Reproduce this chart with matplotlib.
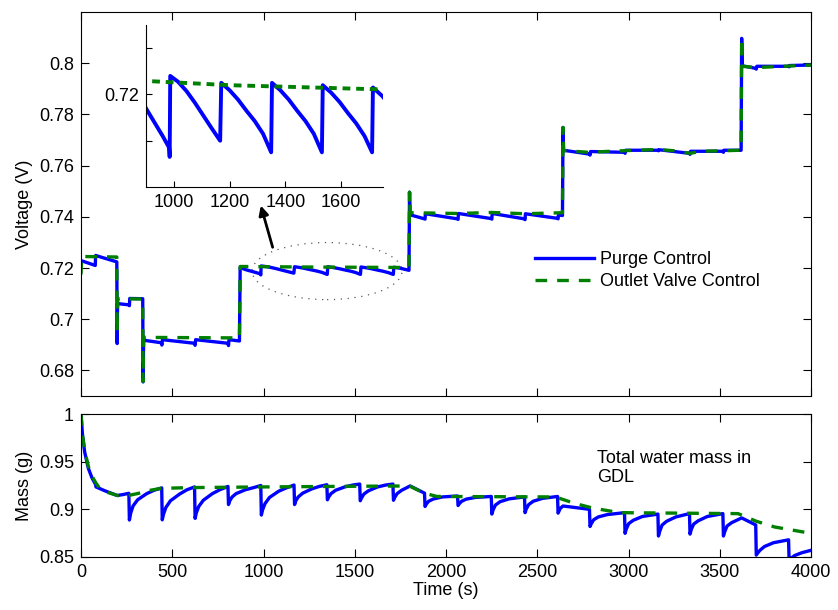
import numpy as np
import matplotlib.pyplot as plt
from matplotlib.patches import Ellipse

plt.rcParams['font.family'] = ['Liberation Sans', 'DejaVu Sans']
plt.rcParams['font.size'] = 13

# Spannung, Purge Control
vb_t = [0, 78, 80, 196, 198, 200, 263, 265, 267, 338, 340, 343,
        440, 443, 446, 622, 625, 628, 805, 808, 811, 868,
        872, 900, 930, 960, 983, 985,
        987, 1015, 1045, 1075, 1105, 1135, 1166,
        1170, 1200, 1230, 1260, 1290, 1320, 1349,
        1352, 1382, 1412, 1442, 1472, 1502, 1531,
        1534, 1564, 1594, 1624, 1654, 1684, 1711,
        1714, 1750, 1797, 1800, 1803,
        1882, 1885, 1887, 2063, 2066, 2068, 2248, 2251, 2253, 2430, 2433, 2435,
        2611, 2614, 2616, 2638, 2641, 2644,
        2786, 2789, 2792, 2978, 2981, 2984, 3161, 3164, 3167, 3334, 3337, 3340,
        3517, 3520, 3523, 3617, 3620, 3623,
        3697, 3700, 3703, 3877, 3880, 3883, 4000]
vb_v = [0.7229, 0.7210, 0.7249, 0.7224, 0.6905, 0.7061, 0.7056, 0.7053, 0.7081, 0.7080, 0.6755, 0.6918,
        0.6908, 0.6899, 0.6920, 0.6906, 0.6898, 0.6920, 0.6906, 0.6897, 0.6920, 0.6915,
        0.7202, 0.7194, 0.7188, 0.7182, 0.7177, 0.7173,
        0.7208, 0.72055, 0.72015, 0.71965, 0.7191, 0.71855, 0.7180,
        0.7205, 0.72018, 0.71978, 0.7193, 0.71885, 0.7183, 0.7175,
        0.7205, 0.72018, 0.71978, 0.7193, 0.71885, 0.7183, 0.7175,
        0.7204, 0.72008, 0.71968, 0.7192, 0.71875, 0.7182, 0.7175,
        0.7203, 0.7199, 0.7191, 0.7496, 0.7408,
        0.7392, 0.7391, 0.7412, 0.7392, 0.7390, 0.7413, 0.7393, 0.7391, 0.7413, 0.7392, 0.7389, 0.7412,
        0.7394, 0.7392, 0.7407, 0.7405, 0.7749, 0.7660,
        0.7645, 0.7641, 0.7655, 0.7652, 0.7648, 0.7660, 0.7660, 0.7658, 0.7662, 0.7648, 0.7644, 0.7656,
        0.7656, 0.7652, 0.7660, 0.7660, 0.8097, 0.7990,
        0.7980, 0.7977, 0.7988, 0.7988, 0.7986, 0.7991, 0.7993]

# Spannung, Outlet Valve Control
vg_t = [0, 3, 196, 198, 201, 338, 340, 343, 868, 872, 1200, 1500, 1797, 1800,
        1803, 2066, 2250, 2433, 2638, 2641, 2644, 2780, 2900, 3000, 3164, 3250,
        3337, 3400, 3617, 3620, 3623, 3700, 3880, 4000]
vg_v = [0.7175, 0.7245, 0.7243, 0.6950, 0.7080, 0.7079, 0.6757, 0.6929, 0.6927,
        0.7206, 0.7204, 0.7203, 0.7202, 0.7496, 0.7416, 0.7413, 0.7417, 0.7412,
        0.7416, 0.7749, 0.7659, 0.7652, 0.7656, 0.7659, 0.7663, 0.7658, 0.7648,
        0.7656, 0.7660, 0.8097, 0.7988, 0.7983, 0.7989, 0.7993]

# Wassermasse GDL, Purge Control
mb_t = [0, 8, 20, 40, 60, 80, 82, 130, 198, 230, 262,
        265, 272, 285, 310, 360, 400, 442,
        445, 452, 465, 490, 540, 580, 622,
        625, 632, 645, 670, 720, 760, 805,
        808, 815, 828, 850, 900, 950, 985,
        988, 995, 1008, 1033, 1083, 1125, 1167,
        1170, 1177, 1190, 1215, 1265, 1305, 1347,
        1350, 1357, 1370, 1395, 1445, 1490, 1527,
        1530, 1537, 1550, 1575, 1625, 1670, 1709,
        1712, 1719, 1732, 1757, 1803, 1882,
        1885, 1892, 1905, 1930, 1980, 2063,
        2066, 2073, 2086, 2111, 2161, 2248,
        2251, 2258, 2271, 2296, 2346, 2430,
        2433, 2440, 2453, 2478, 2528, 2611,
        2614, 2626, 2641, 2786,
        2789, 2796, 2809, 2834, 2884, 2978,
        2981, 2988, 3001, 3026, 3076, 3161,
        3164, 3171, 3184, 3209, 3259, 3334,
        3337, 3344, 3357, 3382, 3432, 3517,
        3520, 3527, 3540, 3565, 3620, 3697,
        3700, 3707, 3720, 3745, 3795, 3877,
        3880, 3890, 3910, 3950, 4000]
mb_v = [1.000, 0.978, 0.960, 0.943, 0.933, 0.926, 0.9235, 0.9195, 0.9145, 0.9155, 0.9168,
        0.8888, 0.8960, 0.9035, 0.9100, 0.9165, 0.9200, 0.9225,
        0.8890, 0.8950, 0.9020, 0.9090, 0.9160, 0.9205, 0.9235,
        0.8905, 0.8965, 0.9030, 0.9095, 0.9165, 0.9205, 0.9240,
        0.9050, 0.9090, 0.9130, 0.9165, 0.9205, 0.9230, 0.9250,
        0.8940, 0.8995, 0.9060, 0.9125, 0.9190, 0.9225, 0.9255,
        0.9050, 0.9090, 0.9130, 0.9170, 0.9215, 0.9240, 0.9258,
        0.9100, 0.9130, 0.9165, 0.9200, 0.9235, 0.9255, 0.9265,
        0.9090, 0.9120, 0.9160, 0.9195, 0.9235, 0.9255, 0.9265,
        0.9095, 0.9125, 0.9165, 0.9200, 0.9245, 0.9170,
        0.9030, 0.9055, 0.9085, 0.9108, 0.9130, 0.9140,
        0.9040, 0.9060, 0.9085, 0.9107, 0.9125, 0.9135,
        0.8950, 0.8995, 0.9045, 0.9080, 0.9110, 0.9130,
        0.8965, 0.9005, 0.9050, 0.9085, 0.9115, 0.9135,
        0.8960, 0.9010, 0.9035, 0.9000,
        0.8820, 0.8850, 0.8890, 0.8920, 0.8945, 0.8965,
        0.8748, 0.8795, 0.8850, 0.8885, 0.8925, 0.8950,
        0.8720, 0.8770, 0.8835, 0.8875, 0.8920, 0.8955,
        0.8740, 0.8790, 0.8845, 0.8880, 0.8925, 0.8955,
        0.8720, 0.8765, 0.8825, 0.8860, 0.8910, 0.8836,
        0.8520, 0.8540, 0.8570, 0.8610, 0.8650, 0.8680,
        0.8460, 0.8485, 0.8515, 0.8545, 0.8570]

# Wassermasse GDL, Outlet Valve Control
mg_t = [0, 8, 20, 40, 60, 80, 100, 150, 200, 260, 320, 380, 440, 600, 1000, 1500,
        1800, 1880, 1950, 2600, 2700, 2800, 2950, 3600, 3700, 3800, 4000]
mg_v = [1.000, 0.978, 0.962, 0.945, 0.935, 0.928, 0.9225, 0.9175, 0.9145, 0.9145,
        0.9170, 0.9200, 0.9220, 0.9228, 0.9235, 0.9242, 0.9245, 0.9170, 0.9135,
        0.9130, 0.9065, 0.9015, 0.8965, 0.8955, 0.8875, 0.8815, 0.8748]

xticks = [0, 500, 1000, 1500, 2000, 2500, 3000, 3500, 4000]
v_ticks = [0.68, 0.70, 0.72, 0.74, 0.76, 0.78, 0.80]
v_labels = ['0.68', '0.7', '0.72', '0.74', '0.76', '0.78', '0.8']
m_ticks = [0.85, 0.90, 0.95, 1.0]
m_labels = ['0.85', '0.9', '0.95', '1']
in_xticks = [1000, 1200, 1400, 1600]
in_yticks = [0.718, 0.720, 0.722]
in_ylabels = ['', '0.72', '']

blau = (0, 0, 1)
gruen = (0, 0.5, 0)

fig = plt.figure(figsize=(8.38, 6.10), dpi=100)

# oben: Spannung
ax1 = fig.add_axes([0.0967, 0.3508, 0.8711, 0.6295])
ax1.plot(vb_t, vb_v, color=blau, lw=2.4, label='Purge Control')
ax1.plot(vg_t, vg_v, color=gruen, lw=2.4, dashes=(3.5, 3), label='Outlet Valve Control')
ax1.set_xlim(0, 4000)
ax1.set_ylim(0.67, 0.82)
ax1.set_xticks(xticks)
ax1.set_xticklabels([])
ax1.set_yticks(v_ticks)
ax1.set_yticklabels(v_labels)
ax1.set_ylabel('Voltage (V)', labelpad=4)
ax1.tick_params(direction='in', top=True, right=True, length=5.5, pad=5)
ax1.legend(loc='upper left', bbox_to_anchor=(0.622, 0.378), frameon=False,
           handlelength=3.25, handletextpad=0.35, labelspacing=0.28,
           borderpad=0, borderaxespad=0)

ell = Ellipse((1348, 0.7188), 822, 0.0223, fill=False, color='0.35', lw=0.9,
              linestyle=(0, (1, 4.5)))
ax1.add_patch(ell)
ax1.annotate('', xy=(985, 0.7444), xytext=(1050, 0.7281),
             arrowprops=dict(arrowstyle='-|>', color='k', lw=2,
                             mutation_scale=14, shrinkA=0, shrinkB=0))

# Inset
ax3 = fig.add_axes([0.1742, 0.6934, 0.2828, 0.2656])
ax3.plot(vb_t, vb_v, color=blau, lw=2.8)
ax3.plot(vg_t, vg_v, color=gruen, lw=2.8, dashes=(2, 1.5))
ax3.set_xlim(900, 1750)
ax3.set_ylim(0.716, 0.723)
ax3.set_xticks(in_xticks)
ax3.set_yticks(in_yticks)
ax3.set_yticklabels(in_ylabels)
ax3.spines['top'].set_visible(False)
ax3.spines['right'].set_visible(False)
ax3.tick_params(direction='in', length=4, pad=5)
ax3.patch.set_alpha(0)

# unten: Masse
ax2 = fig.add_axes([0.0967, 0.0869, 0.8711, 0.2344])
ax2.plot(mb_t, mb_v, color=blau, lw=2.4)
ax2.plot(mg_t, mg_v, color=gruen, lw=2.4, dashes=(3.5, 3))
ax2.set_xlim(0, 4000)
ax2.set_ylim(0.85, 1.0)
ax2.set_xticks(xticks)
ax2.set_yticks(m_ticks)
ax2.set_yticklabels(m_labels)
ax2.set_xlabel('Time (s)', labelpad=1)
ax2.set_ylabel('Mass (g)', labelpad=4)
ax2.tick_params(direction='in', top=True, right=True, length=5.5, pad=5)
ax2.text(2827, 0.962, 'Total water mass in\nGDL', va='top', ha='left', linespacing=1.1)

plt.savefig('out.png', dpi=100)
